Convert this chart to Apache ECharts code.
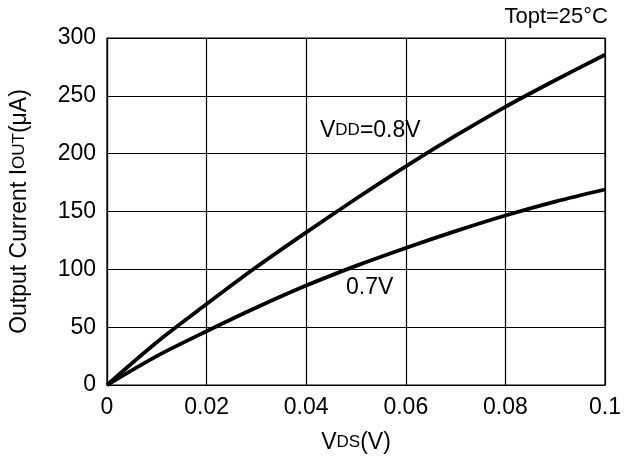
<!DOCTYPE html>
<html>
<head>
<meta charset="utf-8">
<script src="https://cdn.jsdelivr.net/npm/echarts@6/dist/echarts.min.js"></script>
<style>
  html, body { margin: 0; padding: 0; background: #fff; }
  #chart { width: 634px; height: 459px; }
</style>
</head>
<body>
<div id="chart"></div>
<script>
// Vds (V) sample points
const vds = [0, 0.01, 0.02, 0.03, 0.04, 0.05, 0.06, 0.07, 0.08, 0.09, 0.1];
// Iout (uA) for each supply
const iout08 = [0, 37, 70, 102, 132, 161, 189, 215.5, 240.5, 263.5, 285.5];
const iout07 = [0, 25, 46.5, 67, 86, 103, 118.5, 133, 146.5, 158.5, 169];
const xTicks = [0, 0.02, 0.04, 0.06, 0.08, 0.1];
const yTicks = [0, 50, 100, 150, 200, 250, 300];

const font = "'Liberation Sans', Arial, sans-serif";
const big = 23;
const small = 17;
const chart = echarts.init(document.getElementById("chart"));

const toPairs = (ys) => vds.map((x, i) => [x, ys[i]]);
const richText = {
  b: { fontSize: big, fontFamily: font, color: "#000" },
  s: { fontSize: small, fontFamily: font, color: "#000" },
};

const option = {
  animation: false,
  backgroundColor: "#fff",
  grid: {
    left: 107,
    right: 29,
    top: 38,
    bottom: 74,
    show: true,
    borderColor: "#000",
    borderWidth: 1.2,
  },
  xAxis: {
    type: "value",
    min: xTicks[0],
    max: xTicks[xTicks.length - 1],
    interval: 0.02,
    name: "{b|V}{s|DS}{b|(V)}",
    nameLocation: "middle",
    nameGap: 46,
    nameTextStyle: { rich: richText },
    axisLine: { lineStyle: { color: "#000", width: 1.2 } },
    axisTick: { show: false },
    axisLabel: {
      color: "#000",
      fontSize: big,
      fontFamily: font,
      margin: 11,
      formatter: (v) => String(Math.round(v * 100) / 100),
    },
    splitLine: { lineStyle: { color: "#000", width: 1.2 } },
  },
  yAxis: {
    type: "value",
    min: yTicks[0],
    max: yTicks[yTicks.length - 1],
    interval: 50,
    name: "{b|Output Current I}{s|OUT}{b|(μA)}",
    nameLocation: "middle",
    nameGap: 76,
    nameTextStyle: { rich: richText },
    axisLine: { lineStyle: { color: "#000", width: 1.2 } },
    axisTick: { show: false },
    axisLabel: {
      color: "#000",
      fontSize: big,
      fontFamily: font,
      margin: 11,
    },
    splitLine: { lineStyle: { color: "#000", width: 1.2 } },
  },
  series: [
    {
      name: "0.8V",
      type: "line",
      data: toPairs(iout08),
      smooth: 0.3,
      showSymbol: false,
      lineStyle: { color: "#000", width: 3.8 },
    },
    {
      name: "0.7V",
      type: "line",
      data: toPairs(iout07),
      smooth: 0.3,
      showSymbol: false,
      lineStyle: { color: "#000", width: 3.8 },
    },
  ],
  graphic: [
    {
      type: "text",
      right: 26,
      top: 6,
      style: { text: "Topt=25°C", font: "22px " + font, fill: "#000" },
    },
    {
      type: "text",
      left: 320,
      top: 119,
      style: {
        text: "{b|V}{s|DD}{b|=0.8V}",
        rich: {
          b: { fontSize: big, fontFamily: font, fill: "#000" },
          s: { fontSize: small, fontFamily: font, fill: "#000" },
        },
      },
    },
    {
      type: "text",
      left: 346,
      top: 276,
      style: { text: "0.7V", font: big + "px " + font, fill: "#000" },
    },
  ],
};

chart.setOption(option);
</script>
</body>
</html>
